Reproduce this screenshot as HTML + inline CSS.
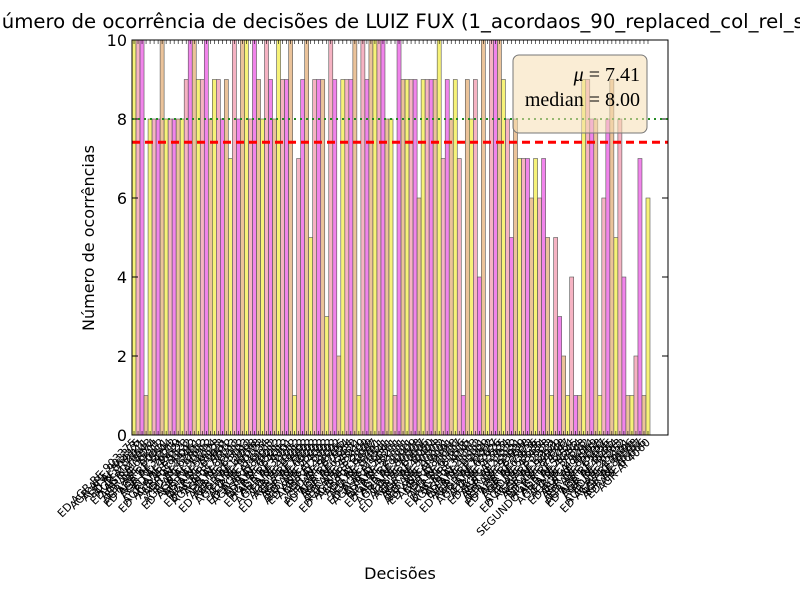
<!DOCTYPE html>
<html><head><meta charset="utf-8"><style>
body{margin:0;background:#fff;width:800px;height:600px;overflow:hidden}
svg{display:block;font-family:"DejaVu Sans","Liberation Sans",sans-serif}
</style></head><body>
<svg id="chart" width="800" height="600" xmlns="http://www.w3.org/2000/svg">
<text x="-13" y="28" font-size="19.7" text-anchor="start">Número de ocorrência de decisões de LUIZ FUX (1_acordaos_90_replaced_col_rel_stf)</text>
<text transform="translate(94,238) rotate(-90)" font-size="16" text-anchor="middle">Número de ocorrências</text>
<text x="400" y="579" font-size="16" text-anchor="middle">Decisões</text>
<g id="bars"></g>
<g id="xlabels"></g>
<g id="yaxis"></g>
<g id="lines"></g>
<rect x="132" y="40" width="536" height="395" fill="none" stroke="#000" stroke-width="1"/>
<g>
<rect x="513" y="55" width="134" height="78" rx="6" fill="#f5deb3" fill-opacity="0.55" stroke="#777"/>
<text x="640" y="81" font-family="Liberation Serif,serif" font-size="20" text-anchor="end"><tspan font-style="italic">μ</tspan> = 7.41</text>
<text x="640" y="106" font-family="Liberation Serif,serif" font-size="20" text-anchor="end">median = 8.00</text>
</g>
</svg>
<script>
const values = [10,10,10,1,8,8,8,10,8,8,8,8,8,9,10,10,9,9,10,8,9,9,8,9,7,10,8,10,10,8,10,9,8,10,9,8,10,9,9,10,1,7,9,10,
5,9,9,9,3,10,9,2,9,9,9,10,1,10,9,10,10,10,10,8,8,1,10,9,9,9,9,6,9,9,9,9,10,7,9,8,9,7,1,9,8,9,
4,10,1,10,10,10,9,8,5,8,7,7,7,6,7,6,7,5,1,5,3,2,1,4,1,1,9,9,8,8,1,6,8,9,5,8,4,1,1,2,7,1,6];
const categories = ["ED AGR RE 903375","AGR ARE 903375","AGR AI 854321","ED RE 782011","AGR AI 76543","ED AGR AI 8874","AGR RE 66211","ED ARE 77812","AGR ARE 90011","ED AGR RE 5544","AGR AI 34112","AGR RE 76219","ED AI 45521","AGR ARE 88123","ED AGR ARE 1122","AGR RE 99012","AGR AI 23451","ED RE 67812","AGR ARE 34512","ED AGR AI 90812","AGR RE 11234","AGR AI 56123","ED ARE 78123","AGR RE 99881","ED AGR RE 4512","AGR ARE 77123","AGR AI 88712","ED RE 23412","AGR RE 65123","ED AGR ARE 3312","AGR AI 12098","AGR ARE 45098","ED RE 90123","AGR RE 31234","ED AGR AI 6123","AGR ARE 87012","AGR AI 76012","ED ARE 65012","AGR RE 54012","ED AGR RE 4301","AGR AI 32012","AGR ARE 21012","ED RE 10012","AGR RE 99002",
"ED AGR ARE 8802","AGR AI 77002","AGR RE 66002","ED ARE 55002","AGR ARE 44002","ED AGR AI 3302","AGR RE 22002","AGR AI 11002","ED RE 98765","AGR ARE 87654","ED AGR RE 7654","AGR AI 65432","AGR RE 54321","ED ARE 43210","AGR ARE 32109","ED AGR ARE 2109","AGR RE 10987","AGR AI 98761","ED RE 87651","AGR RE 76541","ED AGR AI 6541","AGR ARE 54311","AGR AI 43211","ED ARE 32111","AGR RE 21111","ED AGR RE 1111","AGR AI 90909","AGR ARE 80808","ED RE 70707","AGR RE 60606","ED AGR ARE 5050","AGR AI 40404","AGR RE 30303","ED ARE 20202","AGR ARE 10101","ED AGR AI 9191","AGR RE 81818","AGR AI 71717","ED RE 61616","AGR RE 51515","ED AGR RE 4141","AGR ARE 31313",
"AGR AI 21212","ED ARE 11111","AGR RE 92929","ED AGR ARE 8282","AGR AI 72727","AGR ARE 62626","ED RE 52525","AGR RE 42424","ED AGR AI 3232","AGR AI 22222","AGR RE 12121","ED ARE 93939","AGR ARE 83838","ED AGR RE 7373","AGR AI 63636","AGR RE 53535","ED RE 43434","AGR ARE 33333","ED AGR ARE 2323","AGR AI 13131","AGR RE 94949","ED ARE 84848","AGR RE 74747","SEGUNDO AGR RE 6464","AGR AI 54545","AGR ARE 44444","ED RE 34343","AGR RE 24242","ED AGR AI 1414","AGR AI 95959","AGR RE 85858","ED ARE 75757","AGR ARE 65656","ED AGR RE 5555","AGR AI 45454","AGR RE 35353","ED RE 25252","AGR ARE 15151","ED AGR ARE 9696","AGR AI 86868","AGR RE 76767","ED ARE 66666","AGR AI 4060"];
const yTicks = [0,2,4,6,8,10];
const meanValue = 7.41;
const medianValue = 8.00;
const colors = ["#f5f060","#f4a6b8","#ee6ee8","#e8b888"];
const NS="http://www.w3.org/2000/svg";
const X0=132,X1=668,Y0=435,Y1=40;
const n=values.length, bw=(650-132)/n;
const xDomain=(668-132)/bw;
function xs(i){return X0+(X1-X0)*i/xDomain;}
function ys(v){return Y0-(Y0-Y1)*v/10;}
function mk(tag,attrs,parent){const e=document.createElementNS(NS,tag);for(const k in attrs)e.setAttribute(k,attrs[k]);parent.appendChild(e);return e;}
const gb=document.getElementById('bars'), gl=document.getElementById('xlabels'), gy=document.getElementById('yaxis'), gr=document.getElementById('lines');
values.forEach((v,i)=>{
  const r=mk('rect',{x:xs(i),y:ys(v),width:xs(i+1)-xs(i),height:Y0-ys(v),fill:colors[i%4],'fill-opacity':0.85,stroke:'#555','stroke-width':0.6},gb);
  
  
  const cx=xs(i+0.5);
  const t1=mk('line',{x1:cx,x2:cx,y1:Y0,y2:Y0-4,stroke:'#000','stroke-width':0.6},gb);
  
  
  const t2=mk('line',{x1:cx,x2:cx,y1:Y1,y2:Y1+4,stroke:'#000','stroke-width':0.6},gb);
  
  
  const tx=mk('text',{x:cx+3,y:Y0+8,'font-size':11,'text-anchor':'end',transform:`rotate(-45 ${cx+3} ${Y0+8})`},gl);
  tx.textContent=categories[i]||'';
  
  
});
yTicks.forEach(t=>{
  const y=ys(t);
  const l=mk('line',{x1:X0,x2:X0+6,y1:y,y2:y,stroke:'#000'},gy);
  
  
  const l2=mk('line',{x1:X1-6,x2:X1,y1:y,y2:y,stroke:'#000'},gy);
  
  
  const tx=mk('text',{x:X0-5,y:y+6,'font-size':16,'text-anchor':'end'},gy);
  tx.textContent=t;
  
  
});
const ml=mk('line',{x1:X0,x2:X1,y1:ys(meanValue),y2:ys(meanValue),stroke:'#ff0000','stroke-width':3,'stroke-dasharray':'8,5'},gr);


const dl=mk('line',{x1:X0,x2:X1,y1:ys(medianValue),y2:ys(medianValue),stroke:'#228b22','stroke-width':2,'stroke-dasharray':'2,4'},gr);


</script>
</body></html>
